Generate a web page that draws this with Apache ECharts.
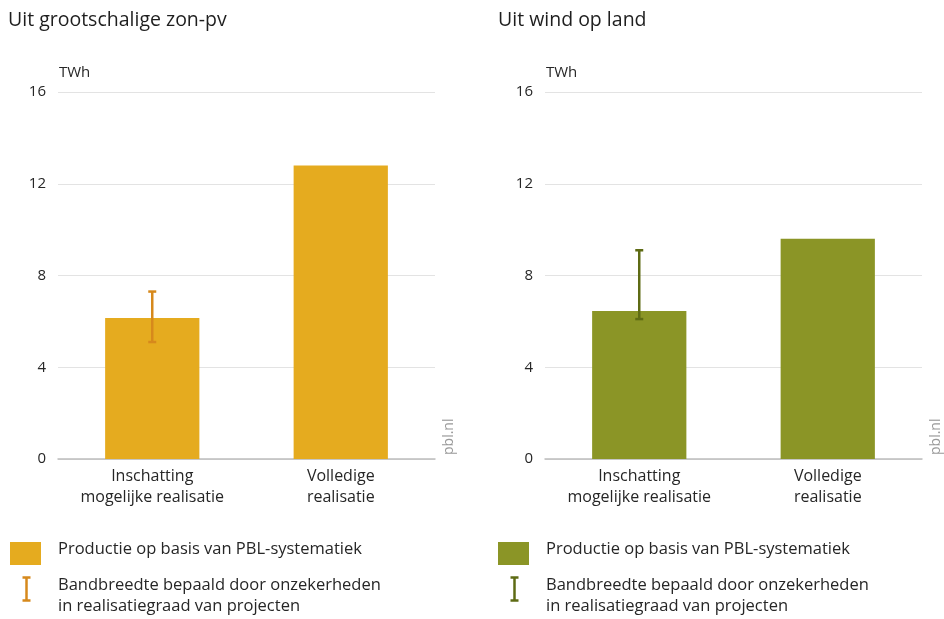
<!DOCTYPE html>
<html><head><meta charset="utf-8">
<script src="https://cdn.jsdelivr.net/npm/echarts@6/dist/echarts.min.js"></script>
<style>html,body{margin:0;padding:0;background:#fff}#c{width:944px;height:619px}</style>
</head><body><div id="c"></div>
<script>
const categories = ['Inschatting\nmogelijke realisatie', 'Volledige\nrealisatie'];
const solarValues = [6.15, 12.8];
const solarLow = [5.1, null];
const solarHigh = [7.3, null];
const windValues = [6.45, 9.6];
const windLow = [6.1, null];
const windHigh = [9.1, null];
const yTicks = [0, 4, 8, 12, 16];
const titles = ['Uit grootschalige zon-pv', 'Uit wind op land'];
const legendBar = 'Productie op basis van PBL-systematiek';
const legendErr = 'Bandbreedte bepaald door onzekerheden\nin realisatiegraad van projecten';

const FONT = '"Open Sans", "Noto Sans", sans-serif';
const TXT = '#262626';
const solarColor = '#e5ab1f', solarErr = '#d6891c';
const windColor = '#8b9526', windErr = '#5e6b14';

function errSeries(idx, low, high, color) {
  const data = low.map((l, i) => [i, l, high[i]]).filter(d => d[1] != null);
  return {
    type: 'custom', xAxisIndex: idx, yAxisIndex: idx, z: 10,
    data: data,
    renderItem: function (params, api) {
      const lo = api.coord([api.value(0), api.value(1)]);
      const hi = api.coord([api.value(0), api.value(2)]);
      const w = 4;
      const st = { stroke: color, lineWidth: 2.5 };
      return { type: 'group', children: [
        { type: 'line', shape: { x1: lo[0], y1: lo[1], x2: hi[0], y2: hi[1] }, style: st },
        { type: 'line', shape: { x1: lo[0] - w, y1: lo[1], x2: lo[0] + w, y2: lo[1] }, style: st },
        { type: 'line', shape: { x1: hi[0] - w, y1: hi[1], x2: hi[0] + w, y2: hi[1] }, style: st }
      ]};
    }
  };
}

function xAx(idx) {
  return {
    type: 'category', gridIndex: idx, data: categories,
    axisLine: { lineStyle: { color: '#bdbdbd', width: 1.5 } },
    axisTick: { show: false },
    axisLabel: { interval: 0, hideOverlap: false, color: TXT, fontSize: 16, fontFamily: FONT, lineHeight: 21, margin: 7 }
  };
}
function yAx(idx) {
  return {
    type: 'value', gridIndex: idx, min: yTicks[0], max: yTicks[yTicks.length - 1], interval: 4,
    name: 'TWh', nameLocation: 'end', nameGap: 12,
    nameTextStyle: { color: TXT, fontSize: 15, fontFamily: FONT, align: 'left', padding: [0, 0, 0, 1] },
    axisLine: { show: false }, axisTick: { show: false },
    axisLabel: { color: TXT, fontSize: 15, fontFamily: FONT, margin: 12 },
    splitLine: { lineStyle: { color: '#e3e3e3', width: 1 } }
  };
}

function legend(x, color, errColor) {
  return [
    { type: 'rect', left: x + 10, top: 542, shape: { width: 31, height: 23 }, style: { fill: color } },
    { type: 'text', left: x + 58, top: 541, style: { text: legendBar, fill: TXT, font: '16.5px ' + FONT } },
    { type: 'group', left: x + 20, top: 575, children: [
      { type: 'line', shape: { x1: 4, y1: 0, x2: 4, y2: 23 }, style: { stroke: errColor, lineWidth: 2.5 } },
      { type: 'line', shape: { x1: 0, y1: 0, x2: 8, y2: 0 }, style: { stroke: errColor, lineWidth: 2.5 } },
      { type: 'line', shape: { x1: 0, y1: 23, x2: 8, y2: 23 }, style: { stroke: errColor, lineWidth: 2.5 } }
    ]},
    { type: 'text', left: x + 58, top: 575, style: { text: legendErr, fill: TXT, font: '16.5px ' + FONT, lineHeight: 21 } }
  ];
}

const chart = echarts.init(document.getElementById('c'));
chart.setOption({
  animation: false,
  textStyle: { fontFamily: FONT },
  grid: [
    { left: 58, right: 509, top: 92, bottom: 160 },
    { left: 545, right: 22, top: 92, bottom: 160 }
  ],
  xAxis: [xAx(0), xAx(1)],
  yAxis: [yAx(0), yAx(1)],
  series: [
    { type: 'bar', xAxisIndex: 0, yAxisIndex: 0, data: solarValues, barWidth: '50%', itemStyle: { color: solarColor } },
    errSeries(0, solarLow, solarHigh, solarErr),
    { type: 'bar', xAxisIndex: 1, yAxisIndex: 1, data: windValues, barWidth: '50%', itemStyle: { color: windColor } },
    errSeries(1, windLow, windHigh, windErr)
  ],
  graphic: [
    { type: 'text', left: 8, top: 10, style: { text: titles[0], fill: '#1e1e1e', font: '19.5px ' + FONT } },
    { type: 'text', left: 498, top: 10, style: { text: titles[1], fill: '#1e1e1e', font: '19.5px ' + FONT } },
    { type: 'text', x: 442, y: 455, rotation: Math.PI / 2, style: { text: 'pbl.nl', fill: '#999', font: '14px ' + FONT } },
    { type: 'text', x: 929, y: 455, rotation: Math.PI / 2, style: { text: 'pbl.nl', fill: '#999', font: '14px ' + FONT } }
  ].concat(legend(0, solarColor, solarErr), legend(488, windColor, windErr))
});
</script></body></html>
